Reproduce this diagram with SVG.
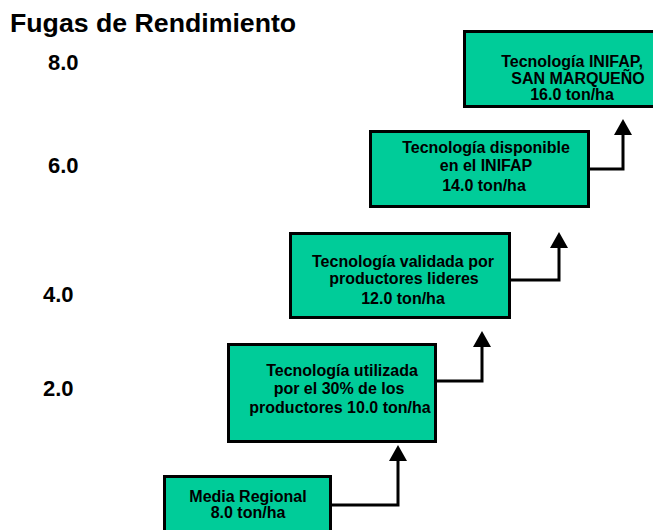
<svg xmlns="http://www.w3.org/2000/svg" width="653" height="530" viewBox="0 0 653 530">
<style>
.box{fill:#00CC99;stroke:#000;stroke-width:3}
.t{font-family:"Liberation Sans",Arial,sans-serif;font-weight:bold;font-size:16px;fill:#000;text-anchor:middle}
.lbl{font-family:"Liberation Sans",Arial,sans-serif;font-weight:bold;font-size:22px;fill:#000}
.ttl{font-family:"Liberation Sans",Arial,sans-serif;font-weight:bold;font-size:26.7px;fill:#000}
.con{fill:none;stroke:#000;stroke-width:3;marker-end:url(#ah)}
</style>
<defs>
<marker id="ah" markerUnits="userSpaceOnUse" markerWidth="16" markerHeight="18" viewBox="0 0 16 18" refX="0" refY="9" orient="auto">
<path d="M0,0 L16,9 L0,18 Z" fill="#000"/>
</marker>
</defs>
<rect width="653" height="530" fill="#fff"/>
<text class="ttl" x="10" y="32">Fugas de Rendimiento</text>
<g id="axis">
<text class="lbl" x="48" y="70">8.0</text>
<text class="lbl" x="48" y="173">6.0</text>
<text class="lbl" x="43" y="302">4.0</text>
<text class="lbl" x="43" y="396">2.0</text>
</g>
<g id="connectors">
<path class="con" d="M332 505 H398 V461"/>
<path class="con" d="M437 381 H482 V347"/>
<path class="con" d="M511 280 H559 V248"/>
<path class="con" d="M590 169 H623 V135"/>
</g>
<g id="n1">
<rect class="box" x="164.5" y="476.5" width="166" height="60"/>
<text class="t" x="248" y="502">Media Regional</text>
<text class="t" x="248" y="518">8.0 ton/ha</text>
</g>
<g id="n2">
<rect class="box" x="228.5" y="344.5" width="207" height="97"/>
<text class="t" x="342" y="376">Tecnología utilizada</text>
<text class="t" x="339" y="394">por el 30% de los</text>
<text class="t" x="340" y="413">productores 10.0 ton/ha</text>
</g>
<g id="n3">
<rect class="box" x="290.5" y="233.5" width="219" height="84"/>
<text class="t" x="403" y="267">Tecnología validada por</text>
<text class="t" x="404" y="284">productores lideres</text>
<text class="t" x="403" y="304">12.0 ton/ha</text>
</g>
<g id="n4">
<rect class="box" x="370.5" y="131.5" width="218" height="75"/>
<text class="t" x="486" y="153">Tecnología disponible</text>
<text class="t" x="486" y="171">en el INIFAP</text>
<text class="t" x="484" y="191">14.0 ton/ha</text>
</g>
<g id="n5">
<rect class="box" x="464.5" y="31.5" width="192" height="75"/>
<text class="t" x="572" y="67">Tecnología INIFAP,</text>
<text class="t" x="578" y="84">SAN MARQUEÑO</text>
<text class="t" x="572" y="100">16.0 ton/ha</text>
</g>
</svg>
